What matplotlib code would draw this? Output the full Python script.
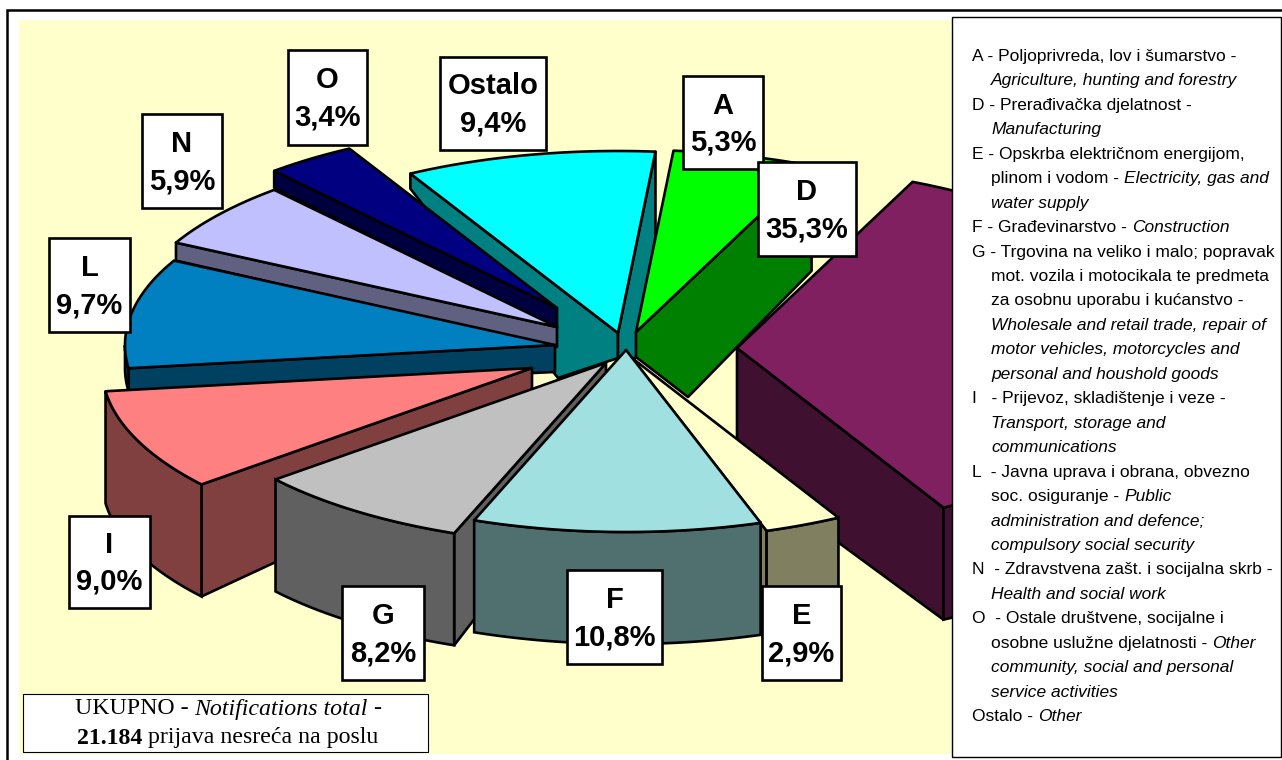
import numpy as np
import matplotlib
matplotlib.use("Agg")
import matplotlib.pyplot as plt
from matplotlib.patches import Polygon, Rectangle

# ---- data, clockwise from the top of the pie ----
CATEGORIES = ["A", "D", "E", "F", "G", "I", "L", "N", "O", "Ostalo"]
VALUES = [5.3, 35.3, 2.9, 10.8, 8.2, 9.0, 9.7, 5.9, 3.4, 9.4]
TOTAL_LINE1 = [("UKUPNO - ", "normal", "normal"), ("Notifications total", "italic", "normal"), (" -", "normal", "normal")]
TOTAL_LINE2 = [("21.184", "normal", "bold"), (" prijava nesreća na poslu", "normal", "normal")]
# indent flag, (text, italic?) segments
LEGEND = [
    (0, [("A - Poljoprivreda, lov i šumarstvo -", 0)]),
    (1, [("Agriculture, hunting and forestry", 1)]),
    (0, [("D - Prerađivačka djelatnost -", 0)]),
    (1, [("Manufacturing", 1)]),
    (0, [("E - Opskrba električnom energijom,", 0)]),
    (1, [("plinom i vodom - ", 0), ("Electricity, gas and", 1)]),
    (1, [("water supply", 1)]),
    (0, [("F - Građevinarstvo - ", 0), ("Construction", 1)]),
    (0, [("G - Trgovina na veliko i malo; popravak", 0)]),
    (1, [("mot. vozila i motocikala te predmeta", 0)]),
    (1, [("za osobnu uporabu i kućanstvo -", 0)]),
    (1, [("Wholesale and retail trade, repair of", 1)]),
    (1, [("motor vehicles, motorcycles and", 1)]),
    (1, [("personal and houshold goods", 1)]),
    (0, [("I   - Prijevoz, skladištenje i veze -", 0)]),
    (1, [("Transport, storage and", 1)]),
    (1, [("communications", 1)]),
    (0, [("L  - Javna uprava i obrana, obvezno", 0)]),
    (1, [("soc. osiguranje - ", 0), ("Public", 1)]),
    (1, [("administration and defence;", 1)]),
    (1, [("compulsory social security", 1)]),
    (0, [("N  - Zdravstvena zašt. i socijalna skrb -", 0)]),
    (1, [("Health and social work", 1)]),
    (0, [("O  - Ostale društvene, socijalne i", 0)]),
    (1, [("osobne uslužne djelatnosti - ", 0), ("Other", 1)]),
    (1, [("community, social and personal", 1)]),
    (1, [("service activities", 1)]),
    (0, [("Ostalo - ", 0), ("Other", 1)]),
]

# ---- styling and projection ----
TOP = dict(zip(CATEGORIES, ["#00FF00", "#802060", "#FFFFCC", "#A0E0E0", "#C0C0C0",
                            "#FF8080", "#0080C0", "#C0C0FF", "#000080", "#00FFFF"]))
SIDE = dict(zip(CATEGORIES, ["#008000", "#401030", "#808060", "#507070", "#606060",
                             "#804040", "#004060", "#606080", "#000040", "#008080"]))
START_DEG = 5.0
CX, CY, RX, RY = 620, 345, 430, 182
EXPLODE = dict(A=(16, -13), D=(117, 3), E=(12, 13), F=(6, 5), G=(-14, 18),
               I=(-88, 23), L=(-65, 0), N=(-63, -18), O=(-63, -37), Ostalo=(-2, -12))
RIM_DEPTH = dict(D=112, E=112, F=112, G=112, I=112, L=23)
# edge, apex depth, bottom-apex dx, dy, rim depth
EDGE_WALLS = dict(
    Ostalo=[("start", 25, -60, 45, 15), ("end", 25, 18, 25, 85)],
    O=[("start", 20, 0, 20, 17)], N=[("start", 20, 0, 20, 18)],
    L=[("start", 27, 0, 27, 23)], I=[("start", 22, 0, 75, 112)],
    A=[("end", 25, 52, 65, 105)], D=[("end", 120, 0, 120, 112)],
    E=[("end", 60, 0, 60, 112)], G=[("start", 85, 0, 85, 112)], F=[])
ORDER = ["Ostalo", "O", "N", "L", "I", "A", "D", "E", "G", "F"]
LABEL_BOX = dict(A=(683, 76, 763, 169), D=(758, 162, 856, 256), E=(762, 586, 841, 680),
                 F=(567, 570, 662, 664), G=(342, 586, 424, 680), I=(69, 516, 150, 608),
                 L=(49, 238, 130, 332), N=(142, 114, 222, 208), O=(288, 50, 367, 145),
                 Ostalo=(440, 57, 546, 150))
LW = 1.9
SANS, SERIF = "Liberation Sans", "Liberation Serif"

fig = plt.figure(figsize=(12.82, 7.60), dpi=100)
ax = fig.add_axes([0, 0, 1, 1])
ax.set_xlim(0, 1282); ax.set_ylim(760, 0); ax.axis("off")
ax.add_patch(Rectangle((19, 20), 933, 734, fc="#FFFFCC", ec="none", zorder=0))

edges = np.cumsum([0] + VALUES) / sum(VALUES) * 360 + START_DEG
SPAN = {c: (edges[i], edges[i + 1]) for i, c in enumerate(CATEGORIES)}

def rim(apex, deg):
    t = np.radians(deg)
    return np.column_stack([apex[0] + RX * np.sin(t), apex[1] - RY * np.cos(t)])

z = 1
for c in ORDER:
    a0, a1 = SPAN[c]
    apex = np.array([CX + EXPLODE[c][0], CY + EXPLODE[c][1]], float)
    for edge, da, bx, by, dr in EDGE_WALLS[c]:
        r = rim(apex, [a0 if edge == "start" else a1])[0]
        pts = [apex, apex + (0, da), apex + (bx, by), r + (0, dr), r]
        ax.add_patch(Polygon(pts, closed=True, fc=SIDE[c], ec="black", lw=LW, joinstyle="round", zorder=z))
        z += 1
    lo, hi = max(a0, 90), min(a1, 270)
    if hi > lo and c in RIM_DEPTH:
        arc = rim(apex, np.linspace(lo, hi, 60))
        pts = np.vstack([arc, (arc + (0, RIM_DEPTH[c]))[::-1]])
        ax.add_patch(Polygon(pts, closed=True, fc=SIDE[c], ec="black", lw=LW, zorder=z))
        z += 1
    pts = np.vstack([apex, rim(apex, np.linspace(a0, a1, 60))])
    ax.add_patch(Polygon(pts, closed=True, fc=TOP[c], ec="black", lw=LW, joinstyle="round", zorder=z))
    z += 1

# data labels
for c, v in zip(CATEGORIES, VALUES):
    x0, y0, x1, y1 = LABEL_BOX[c]
    ax.add_patch(Rectangle((x0, y0), x1 - x0, y1 - y0, fc="white", ec="black", lw=LW, zorder=100))
    xm, ym = (x0 + x1) / 2, (y0 + y1) / 2
    ax.text(xm, ym - 17, c, ha="center", va="center", family=SANS, weight="bold", size=21, color="black", zorder=101)
    ax.text(xm, ym + 20, f"{v:.1f}%".replace(".", ","), ha="center", va="center", family=SANS,
            weight="bold", size=21, color="black", zorder=101)

# legend panel
ax.add_patch(Rectangle((952, 17), 329, 740, fc="white", ec="black", lw=1.0, zorder=200))
renderer = fig.canvas.get_renderer()
def segments(x, y, parts, fam, size):
    for s, style, weight in parts:
        t = ax.text(x, y, s, family=fam, style=style, weight=weight, size=size, va="center", ha="left",
                    color="black", zorder=201)
        adv = renderer.get_text_width_height_descent(s, t.get_fontproperties(), False)[0]
        x += max(adv, t.get_window_extent(renderer).width)

for i, (ind, parts) in enumerate(LEGEND):
    segments(991 if ind else 972, 56.5 + 24.45 * i,
             [(s, "italic" if it else "normal", "normal") for s, it in parts], SANS, 12.5)

# total box
ax.add_patch(Rectangle((22.5, 694), 405, 58, fc="white", ec="black", lw=0.8, zorder=200))
segments(75, 709, TOTAL_LINE1, SERIF, 17.2)
segments(77, 738, TOTAL_LINE2, SERIF, 17.2)

# outer frame
ax.plot([6.5, 6.5, 1282], [760, 10, 10], color="black", lw=1.8, zorder=300, solid_joinstyle="miter")

fig.savefig("out.png", dpi=100)
